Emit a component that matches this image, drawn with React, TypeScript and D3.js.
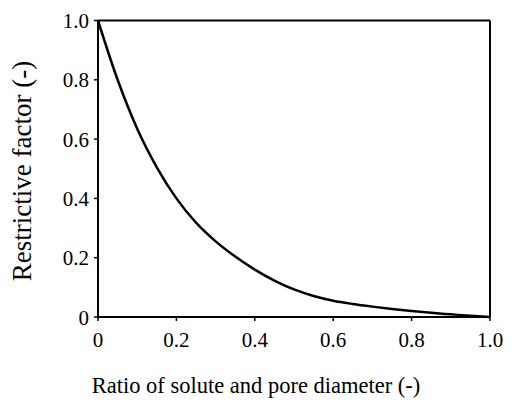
import React from "react";
import * as d3 from "d3";

const ratio = [0, 0.05, 0.1, 0.15, 0.2, 0.25, 0.3, 0.35, 0.4, 0.45, 0.5, 0.55, 0.6, 0.65, 0.7, 0.75, 0.8, 0.85, 0.9, 0.95, 1.0];
const factor = [1.0, 0.8, 0.635, 0.505, 0.4, 0.318, 0.255, 0.204, 0.16, 0.123, 0.093, 0.071, 0.055, 0.044, 0.035, 0.027, 0.02, 0.014, 0.009, 0.004, 0.0];
const xTicks = [0, 0.2, 0.4, 0.6, 0.8, 1.0];
const xTickLabels = ["0", "0.2", "0.4", "0.6", "0.8", "1.0"];
const yTicks = [0, 0.2, 0.4, 0.6, 0.8, 1.0];
const yTickLabels = ["0", "0.2", "0.4", "0.6", "0.8", "1.0"];
const xTitle = "Ratio of solute and pore diameter (-)";
const yTitle = "Restrictive factor (-)";

const W = 512;
const H = 403;
const left = 98;
const right = 490;
const top = 20.5;
const bottom = 317;

export default function App() {
  const x = d3.scaleLinear().domain([0, 1]).range([left, right]);
  const y = d3.scaleLinear().domain([0, 1]).range([bottom, top]);
  const pts = ratio.map((r, i) => [r, factor[i]] as [number, number]);
  const line = d3
    .line<[number, number]>()
    .x((d) => x(d[0]))
    .y((d) => y(d[1]))
    .curve(d3.curveMonotoneX);
  const ff = { fontFamily: '"Liberation Serif", "DejaVu Serif", "Times New Roman", serif' };
  return (
    <svg
      width={W}
      height={H}
      style={{ position: "absolute", left: 0, top: 0, background: "#fff" }}
    >
      <rect x={0} y={0} width={W} height={H} fill="#fff" />
      {/* frame */}
      <line x1={left} x2={right} y1={top} y2={top} stroke="#000" strokeWidth={2} />
      <line x1={right} x2={right} y1={top} y2={bottom} stroke="#000" strokeWidth={2} />
      <line x1={left} x2={left} y1={top} y2={bottom} stroke="#000" strokeWidth={2} />
      <line x1={left} x2={right} y1={bottom} y2={bottom} stroke="#000" strokeWidth={2} />
      {/* y ticks */}
      {yTicks.map((t, i) => (
        <g key={"y" + i}>
          <line x1={left - 4} x2={left} y1={y(t)} y2={y(t)} stroke="#000" strokeWidth={1.5} />
          <text x={left - 9} y={y(t)} dy="0.36em" textAnchor="end" fontSize={21} fill="#000" style={ff}>
            {yTickLabels[i]}
          </text>
        </g>
      ))}
      {/* x ticks */}
      {xTicks.map((t, i) => (
        <g key={"x" + i}>
          <line x1={x(t)} x2={x(t)} y1={bottom} y2={bottom + 4} stroke="#000" strokeWidth={1.5} />
          <text x={x(t)} y={bottom + 30} textAnchor="middle" fontSize={21} fill="#000" style={ff}>
            {xTickLabels[i]}
          </text>
        </g>
      ))}
      {/* curve */}
      <path d={line(pts) || ""} fill="none" stroke="#000" strokeWidth={2.5} />
      {/* titles */}
      <text x={256} y={393} textAnchor="middle" fontSize={22.5} fill="#000" style={ff}>
        {xTitle}
      </text>
      <text
        transform={`translate(31, ${(57 + 285) / 2}) rotate(-90)`}
        textAnchor="middle"
        fontSize={27}
        fill="#000"
        style={ff}
      >
        {yTitle}
      </text>
    </svg>
  );
}
